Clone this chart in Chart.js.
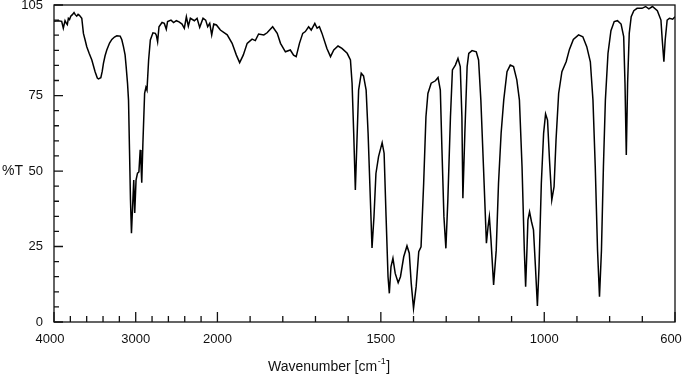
<!DOCTYPE html>
<html>
<head>
<meta charset="utf-8">
<script src="https://cdn.jsdelivr.net/npm/chart.js@4"></script>
<style>
body { margin: 0; background: #fff; }
#wrap { width: 683px; height: 375px; position: relative; }
</style>
</head>
<body>
<div id="wrap"><canvas id="chartCanvas"></canvas></div>
<script>
const wavenumbers = [
	4000, 3950, 3906, 3886, 3865, 3850, 3837, 3824, 3810, 3795, 3775, 3755, 3740, 3722, 3705, 3689,
	3660, 3640, 3620, 3599, 3570, 3537, 3497, 3470, 3456, 3427, 3410, 3395, 3375, 3354, 3320, 3292,
	3260, 3231, 3190, 3170, 3150, 3130, 3117, 3100, 3088, 3076, 3064, 3052, 3024, 3012, 2996, 2978,
	2961, 2945, 2936, 2926, 2912, 2891, 2875, 2862, 2842, 2821, 2789, 2760, 2748, 2732, 2715, 2678,
	2650, 2626, 2610, 2568, 2536, 2503, 2470, 2433, 2405, 2380, 2356, 2331, 2282, 2249, 2217, 2176,
	2144, 2119, 2094, 2070, 2045, 2012, 1991, 1970, 1955, 1942, 1932, 1921, 1909, 1894, 1884, 1874,
	1858, 1848, 1831, 1817, 1807, 1792, 1777, 1767, 1759, 1749, 1739, 1731, 1721, 1713, 1702, 1695,
	1688, 1680, 1665, 1654, 1644, 1631, 1619, 1603, 1593, 1588, 1583, 1578, 1573, 1568, 1560, 1553,
	1545, 1539, 1532, 1527, 1521, 1515, 1507, 1496, 1490, 1484, 1478, 1474, 1469, 1463, 1456, 1447,
	1440, 1430, 1420, 1413, 1407, 1400, 1392, 1384, 1377, 1369, 1362, 1356, 1346, 1333, 1325, 1318,
	1313, 1307, 1301, 1295, 1287, 1281, 1272, 1264, 1257, 1252, 1249, 1243, 1236, 1231, 1221, 1208,
	1201, 1194, 1186, 1177, 1172, 1168, 1163, 1155, 1147, 1140, 1132, 1124, 1114, 1104, 1094, 1084,
	1076, 1068, 1061, 1057, 1053, 1050, 1045, 1039, 1033, 1027, 1021, 1016, 1009, 1002, 996, 990,
	984, 977, 970, 964, 956, 946, 933, 923, 911, 895, 882, 870, 859, 851, 844, 837,
	831, 825, 819, 813, 805, 796, 786, 776, 765, 757, 753, 749, 745, 740, 734, 726,
	716, 701, 690, 680, 669, 654, 643, 639, 634, 630, 624, 617, 607, 600
]
const transmittance = [
	99.6, 99.8, 99.6, 97.3, 99.8, 99.0, 98.5, 100.6, 100.2, 101.3, 101.8, 102.5, 101.8, 101.3, 101.9, 101.6,
	100.6, 95.6, 93.5, 91.2, 89.0, 86.8, 82.9, 80.8, 80.5, 80.9, 83.0, 85.7, 88.2, 90.1, 92.4, 93.6,
	94.4, 94.8, 94.7, 93.5, 91.2, 88.5, 84.6, 79.0, 73.5, 57.0, 40.4, 29.4, 47.0, 36.1, 47.0, 49.3,
	49.7, 57.0, 52.6, 46.1, 59.2, 75.7, 77.7, 76.8, 86.8, 93.4, 95.8, 95.6, 95.0, 92.8, 97.8, 99.2,
	98.9, 97.0, 99.5, 100.0, 99.2, 99.8, 99.4, 98.7, 97.3, 101.1, 98.0, 100.6, 99.8, 100.6, 97.6, 100.6,
	100.0, 97.8, 98.9, 95.1, 98.7, 98.4, 96.7, 95.1, 92.3, 88.4, 85.9, 88.4, 92.3, 93.7, 93.2, 95.4,
	95.1, 95.8, 97.8, 95.6, 92.3, 89.5, 90.1, 88.4, 87.9, 92.3, 95.6, 96.2, 97.8, 96.7, 98.9, 97.3,
	97.8, 95.6, 90.6, 87.9, 90.1, 91.4, 90.6, 89.0, 86.8, 79.1, 62.5, 43.7, 60.3, 76.8, 82.4, 81.5,
	76.8, 62.5, 40.4, 24.5, 34.9, 49.2, 54.8, 59.4, 55.9, 34.9, 15.0, 9.5, 18.3, 21.1, 16.1, 13.0,
	15.0, 21.6, 25.2, 22.8, 12.8, 4.5, 11.7, 23.3, 24.9, 45.9, 68.0, 75.7, 79.1, 79.9, 81.0, 76.8,
	57.0, 34.9, 24.4, 40.4, 68.0, 83.5, 85.1, 87.3, 84.6, 68.0, 41.0, 62.5, 84.6, 89.0, 89.9, 89.5,
	86.8, 73.5, 51.4, 26.1, 31.6, 34.9, 27.2, 12.3, 23.8, 45.9, 62.5, 73.5, 82.9, 85.1, 84.6, 80.2,
	73.5, 51.4, 23.8, 11.7, 23.8, 33.8, 36.5, 33.2, 30.5, 18.3, 5.3, 18.3, 45.9, 62.5, 68.9, 66.9,
	53.7, 40.4, 44.8, 60.3, 75.7, 82.9, 86.2, 90.3, 93.6, 95.1, 94.5, 91.2, 86.2, 73.5, 51.4, 23.8,
	8.4, 23.8, 51.4, 73.5, 89.0, 96.5, 99.5, 99.8, 98.7, 94.5, 79.1, 55.3, 79.1, 95.6, 101.1, 103.1,
	103.9, 103.9, 104.5, 103.7, 104.5, 103.1, 100.0, 93.4, 86.2, 93.4, 100.0, 100.6, 100.3, 101.1
]
const xTickLabels = [4000, 3000, 2000, 1500, 1000, 600]
const xMinorTicks = [3800, 3600, 3400, 3200, 2800, 2600, 2400, 2200, 1900, 1800, 1700, 1600, 1400, 1300, 1200, 1100, 900, 800, 700]
const yTickLabels = [0, 25, 50, 75, 105]
const yMinorTicks = [5, 10, 15, 20, 30, 35, 40, 45, 55, 60, 65, 70, 80, 85, 90, 95, 100]

const FONT = '"Liberation Sans", Arial, sans-serif'
const INK = '#111'

// above 2000 cm-1 the axis runs at quarter scale
function toAxis(w) { return w > 2000 ? 2000 + (w - 2000) / 4 : w }

const framePlugin = {
	id: 'frame',
	afterDraw(chart) {
		const ctx = chart.ctx, a = chart.chartArea
		const xs = chart.scales.x, ys = chart.scales.y
		ctx.save()
		ctx.strokeStyle = INK
		ctx.lineWidth = 1.3
		ctx.strokeRect(a.left, a.top, a.right - a.left, a.bottom - a.top)
		ctx.beginPath()
		xTickLabels.forEach(w => { let p = xs.getPixelForValue(toAxis(w)); ctx.moveTo(p, a.bottom); ctx.lineTo(p, a.bottom - 10) })
		xMinorTicks.forEach(w => { let p = xs.getPixelForValue(toAxis(w)); ctx.moveTo(p, a.bottom); ctx.lineTo(p, a.bottom - 6) })
		yTickLabels.forEach(t => { let p = ys.getPixelForValue(t); ctx.moveTo(a.left, p); ctx.lineTo(a.left + 9, p) })
		yMinorTicks.forEach(t => { let p = ys.getPixelForValue(t); ctx.moveTo(a.left, p); ctx.lineTo(a.left + 5, p) })
		ctx.stroke()

		// x tick labels, the two end ones pulled in a little
		ctx.fillStyle = INK
		ctx.font = '13px ' + FONT
		ctx.textAlign = 'center'
		ctx.textBaseline = 'middle'
		xTickLabels.forEach((w, i) => {
			let p = xs.getPixelForValue(toAxis(w))
			if (i === 0) p -= 4
			if (i === xTickLabels.length - 1) p -= 4
			ctx.fillText(String(w), p, a.bottom + 17)
		})

		// axis titles
		ctx.textAlign = 'left'
		ctx.font = '14px ' + FONT
		ctx.fillText('%T', 2, ys.getPixelForValue(50))

		const main = 'Wavenumber [cm', sup = '-1', end = ']'
		const wMain = ctx.measureText(main).width
		const wEnd = ctx.measureText(end).width
		ctx.font = '9px ' + FONT
		const wSup = ctx.measureText(sup).width
		let x = (a.left + a.right) / 2 - 36 - (wMain + wSup + wEnd) / 2
		const y = chart.height - 8
		ctx.font = '14px ' + FONT
		ctx.fillText(main, x, y)
		ctx.font = '9px ' + FONT
		ctx.fillText(sup, x + wMain + 0.5, y - 5)
		ctx.font = '14px ' + FONT
		ctx.fillText(end, x + wMain + wSup + 1, y)
		ctx.restore()
	}
}

window.onload = function() {
	const points = wavenumbers.map((w, i) => ({ x: toAxis(w), y: transmittance[i] }))
	const config = {
		type: 'line',
		data: {
			datasets: [{
				label: '%T',
				data: points,
				borderColor: '#000',
				borderWidth: 1.5,
				pointRadius: 0,
				fill: false,
				tension: 0
			}]
		},
		options: {
			responsive: true,
			maintainAspectRatio: false,
			animation: false,
			layout: { padding: { top: 5, right: 8, left: 0, bottom: 0 } },
			plugins: { legend: { display: false }, tooltip: { enabled: false } },
			scales: {
				x: {
					type: 'linear',
					reverse: true,
					min: toAxis(600),
					max: toAxis(4000),
					grid: { display: false, drawTicks: false },
					border: { display: false },
					ticks: { display: false },
					afterFit: s => { s.height = 53; s.paddingLeft = 0; s.paddingRight = 0 }
				},
				y: {
					min: 0,
					max: 105,
					grid: { display: false, drawTicks: false },
					border: { display: false },
					ticks: {
						padding: 11,
						color: INK,
						font: { family: FONT, size: 13 }
					},
					afterBuildTicks: s => { s.ticks = yTickLabels.map(t => ({ value: t })) },
					afterFit: s => { s.width = 54; s.paddingTop = 0; s.paddingBottom = 0 }
				}
			}
		},
		plugins: [framePlugin]
	}
	window.myChart = new Chart(document.getElementById('chartCanvas'), config)
}
</script>
</body>
</html>
